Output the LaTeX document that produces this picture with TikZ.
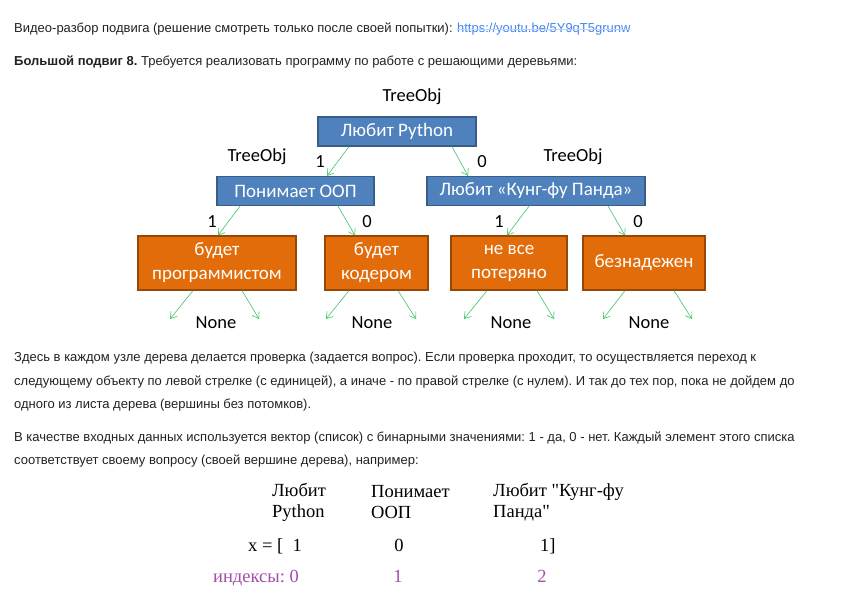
\documentclass[tikz,border=0pt]{standalone}
\usepackage{fontspec}
\setmainfont{Liberation Sans}
\newfontfamily\boxfont{Carlito}
\newfontfamily\serfont{Liberation Serif}
\usetikzlibrary{positioning}
\usetikzlibrary{calc}
\usetikzlibrary{arrows.meta}
\definecolor{boxblue}{RGB}{79,129,189}
\definecolor{boxblueline}{RGB}{56,93,138}
\definecolor{leaforange}{RGB}{227,108,10}
\definecolor{leafline}{RGB}{152,72,6}
\definecolor{edgegreen}{RGB}{64,196,104}
\definecolor{linkblue}{RGB}{66,133,244}
\definecolor{linkline}{RGB}{190,210,245}
\definecolor{idxpurple}{RGB}{166,77,170}
\definecolor{bodytext}{RGB}{34,34,34}
\frenchspacing

\tikzset{
  qbox/.style={draw=boxblueline, fill=boxblue, text=white, line width=1.2pt,
    minimum height=29pt, inner sep=0pt, font=\boxfont\fontsize{19}{24}\selectfont},
  leaf/.style={draw=leafline, fill=leaforange, text=white, line width=1.2pt,
    minimum height=54pt, inner sep=0pt, align=center, font=\boxfont\fontsize{19}{24}\selectfont},
  lbl/.style={inner sep=0pt, font=\boxfont\fontsize{18.5}{22}\selectfont},
  edge/.style={-{Straight Barb[length=6pt,width=8pt]}, edgegreen, line width=0.6pt},
  body/.style={anchor=base west, inner sep=0pt, text=bodytext, font=\fontsize{13}{16}\selectfont},
  ser/.style={inner sep=0pt, align=left, font=\serfont\fontsize{18.5}{21}\selectfont}
}

\begin{document}
\begin{tikzpicture}[x=1pt, y=-1pt]
        \fill[white] (0,0) rectangle (866,603);
        \useasboundingbox (0,0) rectangle (866,603);
        % header %
        \node[body] (head) at (14,32) {Видео-разбор подвига (решение смотреть только после своей попытки):};
        \node[body, text=linkblue, anchor=base west] (link) at ([xshift=4pt]head.base east) {https://youtu.be/5Y9qT5grunw};
        \draw[linkline, line width=0.8pt] ([yshift=3pt]link.base west) -- ([yshift=3pt]link.base east);
        \node[body] (task) at (14,65) {\textbf{Большой подвиг 8.} Требуется реализовать программу по работе с решающими деревьями:};
        % tree nodes %
        \node[qbox, minimum width=158pt] (root) at (397,131.5) {Любит Python};
        \node[qbox, minimum width=157pt] (oop) at (295.5,191) {Понимает ООП};
        \node[qbox, minimum width=218pt] (panda) at (536,191) {Любит «Кунг-фу Панда»};
        \node[leaf, minimum width=158pt] (prog) at (217,263) {будет\\программистом};
        \node[leaf, minimum width=103pt] (coder) at (376.5,263) {будет\\кодером};
        \node[leaf, minimum width=116pt] (lost) at (509,263) {не все\\потеряно};
        \node[leaf, minimum width=122pt] (hope) at (644,263) {безнадежен};
        % labels %
        \node[lbl] (obj-root) at (412,97) {TreeObj};
        \node[lbl] (obj-oop) at (257,157) {TreeObj};
        \node[lbl] (obj-panda) at (573,157) {TreeObj};
        \node[lbl] (yes-root) at (320,162) {1};
        \node[lbl] (no-root) at (482,162) {0};
        \node[lbl] (yes-oop) at (212,222) {1};
        \node[lbl] (no-oop) at (367,222) {0};
        \node[lbl] (yes-panda) at (499,222) {1};
        \node[lbl] (no-panda) at (638,222) {0};
        \node[lbl] (none-prog) at (216,323) {None};
        \node[lbl] (none-coder) at (372,323) {None};
        \node[lbl] (none-lost) at (511,323) {None};
        \node[lbl] (none-hope) at (649,323) {None};
        % free ends %
        \coordinate (prog-l) at (170,319);
        \coordinate (prog-r) at (259,319);
        \coordinate (coder-l) at (326,319);
        \coordinate (coder-r) at (416,319);
        \coordinate (lost-l) at (464,319);
        \coordinate (lost-r) at (554,319);
        \coordinate (hope-l) at (603,319);
        \coordinate (hope-r) at (692,319);
        % edges %
        \draw[edge] ([xshift=-48pt]root.south) -- ([xshift=31.5pt]oop.north);
        \draw[edge] ([xshift=55pt]root.south) -- ([xshift=-68pt]panda.north);
        \draw[edge] ([xshift=-55.5pt]oop.south) -- ([xshift=1pt]prog.north);
        \draw[edge] ([xshift=42.5pt]oop.south) -- ([xshift=-21.5pt]coder.north);
        \draw[edge] ([xshift=-7pt]panda.south) -- ([xshift=-2pt]lost.north);
        \draw[edge] ([xshift=72pt]panda.south) -- ([xshift=-19pt]hope.north);
        \draw[edge] ([xshift=-24pt]prog.south) -- (prog-l);
        \draw[edge] ([xshift=25pt]prog.south) -- (prog-r);
        \draw[edge] ([xshift=-27.5pt]coder.south) -- (coder-l);
        \draw[edge] ([xshift=21.5pt]coder.south) -- (coder-r);
        \draw[edge] ([xshift=-22pt]lost.south) -- (lost-l);
        \draw[edge] ([xshift=28pt]lost.south) -- (lost-r);
        \draw[edge] ([xshift=-19pt]hope.south) -- (hope-l);
        \draw[edge] ([xshift=30pt]hope.south) -- (hope-r);
        % text below %
        \node[body] (p1a) at (14,361) {Здесь в каждом узле дерева делается проверка (задается вопрос). Если проверка проходит, то осуществляется переход к};
        \node[body] (p1b) at (14,385) {следующему объекту по левой стрелке (с единицей), а иначе - по правой стрелке (с нулем). И так до тех пор, пока не дойдем до};
        \node[body] (p1c) at (14,408) {одного из листа дерева (вершины без потомков).};
        \node[body] (p2a) at (14,441) {В качестве входных данных используется вектор (список) с бинарными значениями: 1 - да, 0 - нет. Каждый элемент этого списка};
        \node[body] (p2b) at (14,464) {соответствует своему вопросу (своей вершине дерева), например:};
        % example vector %
        \node[ser, anchor=west] (q-python) at (272,502) {Любит\\Python};
        \node[ser, anchor=west] (q-oop) at (371,502) {Понимает\\ООП};
        \node[ser, anchor=west] (q-panda) at (493,502) {Любит "Кунг-фу\\Панда"};
        \node[ser, anchor=base west] (x0) at (248,551) {x = [\ \ 1};
        \node[ser, anchor=base] (x1) at (399,551) {0};
        \node[ser, anchor=base west] (x2) at (540,551) {1]};
        \node[ser, anchor=base west, text=idxpurple] (i0) at (213,582) {индексы: 0};
        \node[ser, anchor=base, text=idxpurple] (i1) at (398,582) {1};
        \node[ser, anchor=base, text=idxpurple] (i2) at (542,582) {2};
\end{tikzpicture}
\end{document}
